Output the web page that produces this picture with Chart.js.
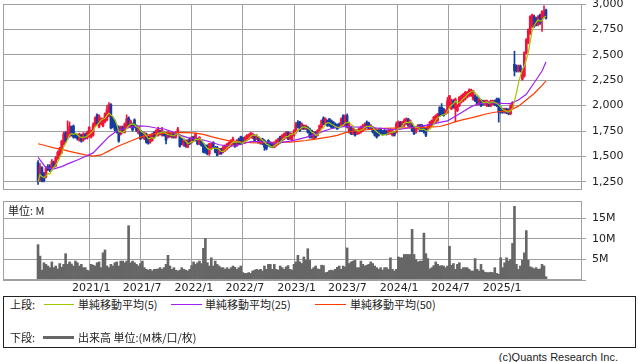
<!DOCTYPE html>
<html lang="ja">
<head>
<meta charset="utf-8">
<title>週足チャート</title>
<script src="https://cdn.jsdelivr.net/npm/chart.js@4.4.1/dist/chart.umd.min.js"></script>
<style>
  html, body { margin: 0; padding: 0; background: #fff; }
  body { position: relative; width: 638px; height: 362px; overflow: hidden;
         font-family: "Noto Sans CJK JP", "DejaVu Sans", sans-serif; color: #222; }
  canvas { position: absolute; left: 0; }
  #price { top: 0; }
  #volume { top: 195px; }
  .t { position: absolute; font-size: 11px; line-height: 14px; white-space: nowrap; }
  .ln { position: absolute; height: 1px; }
  #legend { position: absolute; left: 3px; top: 296px; width: 631px; height: 50px; border: 1px solid #222; }
</style>
</head>
<body>
<canvas id="price" width="638" height="192"></canvas>
<canvas id="volume" width="638" height="100"></canvas>
<div class="t" style="left:8px; top:203px;">単位: M</div>

<div id="legend"></div>
<div class="t" style="left:10px; top:297px;">上段:</div>
<div class="ln" style="left:44px; top:304px; width:30px; background:#a0c800;"></div>
<div class="t" style="left:78px; top:297px;">単純移動平均(5)</div>
<div class="ln" style="left:171px; top:304px; width:31px; background:#a020f0;"></div>
<div class="t" style="left:205px; top:297px;">単純移動平均(25)</div>
<div class="ln" style="left:315px; top:304px; width:31px; background:#ff3c00;"></div>
<div class="t" style="left:350px; top:297px;">単純移動平均(50)</div>
<div class="t" style="left:10px; top:330px;">下段:</div>
<div class="ln" style="left:43px; top:336px; width:31px; height:3px; background:#666;"></div>
<div class="t" style="left:78px; top:330px;">出来高 単位:(M株/口/枚)</div>
<div class="t" style="right:20px; top:350px; font-family:'Liberation Sans', sans-serif;">(c)Quants Research Inc.</div>

<script>
// 週足 (2020/7/3 の週から)
const firstWeek = '2020/7/3';
const tickLabels = ['2021/1', '2021/7', '2022/1', '2022/7', '2023/1', '2023/7', '2024/1', '2024/7', '2025/1'];
const priceTicks = [1250, 1500, 1750, 2000, 2250, 2500, 2750, 3000];
const volumeTicks = [0, 5, 10, 15];

const opens = [
  1440,1270,1390,1330,1300,1400,1405,1375,1440,1410,1480,1510,1540,1620,1735,1680,1700,1790,1800,1720,
  1710,1660,1710,1660,1720,1680,1700,1690,1710,1800,1910,1790,1820,1800,1840,1860,1900,2010,1880,1850,
  1800,1790,1720,1790,1740,1790,1880,1790,1820,1860,1800,1729,1755,1738,1673,1722,1689,1640,1657,1738,
  1706,1706,1755,1706,1738,1729,1689,1729,1689,1722,1689,1722,1706,1673,1608,1657,1591,1673,1640,1695,
  1657,1673,1624,1657,1624,1608,1608,1526,1575,1640,1591,1591,1526,1575,1542,1559,1575,1591,1608,1624,
  1640,1608,1673,1695,1683,1640,1663,1673,1689,1683,1706,1673,1689,1630,1673,1657,1640,1657,1640,1630,
  1591,1608,1624,1695,1657,1673,1689,1738,1673,1657,1706,1738,1837,1837,1771,1804,1771,1787,1771,1755,
  1673,1738,1706,1738,1787,1879,1820,1853,1869,1853,1837,1820,1814,1820,1804,1902,1804,1902,1740,1789,
  1724,1756,1724,1730,1740,1756,1773,1838,1830,1773,1789,1773,1756,1756,1773,1750,1756,1750,1724,1730,
  1708,1740,1740,1773,1838,1795,1805,1821,1870,1789,1821,1789,1740,1773,1805,1805,1789,1773,1773,1789,
  1805,1821,1838,1854,1984,1984,1968,1919,1935,1984,1968,2049,1968,1951,2000,2032,2049,2065,2081,2097,
  2097,2065,2097,2081,2016,2049,2049,2016,2000,2032,2000,2016,2049,2065,2065,1984,1968,1935,1968,1961,
  1919,1984,2406,2390,2341,2390,2260,2292,2520,2617,2714,2780,2877,2860,2795,2893,2860,2877,2941
];
const highs = [
  1460,1430,1400,1345,1400,1420,1420,1470,1455,1500,1555,1590,1660,1740,1745,1850,1840,1800,1810,1730,
  1720,1730,1720,1735,1730,1750,1790,1760,1830,1890,1920,1910,1880,1880,1930,2000,2030,2020,1890,1860,
  1810,1800,1800,1800,1830,1910,1890,1860,1830,1870,1810,1800,1760,1745,1740,1730,1700,1715,1730,1745,
  1765,1790,1760,1787,1745,1735,1745,1735,1735,1730,1745,1787,1715,1680,1665,1665,1665,1680,1695,1700,
  1730,1680,1695,1665,1630,1615,1615,1630,1630,1645,1600,1600,1580,1580,1600,1615,1630,1645,1665,1690,
  1645,1665,1680,1700,1690,1695,1715,1722,1740,1730,1715,1715,1695,1680,1680,1665,1645,1665,1645,1640,
  1645,1665,1680,1700,1715,1730,1745,1745,1735,1730,1765,1837,1853,1845,1830,1810,1810,1795,1780,1760,
  1745,1745,1765,1810,1860,1890,1880,1860,1875,1860,1845,1830,1820,1830,1880,1910,1910,1920,1830,1795,
  1780,1765,1765,1780,1800,1815,1830,1850,1838,1815,1795,1780,1765,1765,1780,1756,1765,1756,1765,1770,
  1756,1745,1840,1850,1845,1845,1870,1880,1875,1860,1830,1795,1795,1815,1815,1815,1795,1780,1815,1845,
  1860,1895,1910,1925,1990,2020,1975,1960,2081,2100,2065,2060,2075,2010,2090,2105,2120,2140,2140,2165,
  2162,2150,2110,2090,2075,2060,2055,2055,2055,2040,2055,2055,2055,2075,2075,1990,1975,1975,1975,1970,
  2010,2040,2536,2400,2400,2400,2365,2530,2660,2755,2885,2900,2890,2870,2885,2900,2935,2981,2950
];
const lows = [
  1225,1255,1250,1250,1290,1360,1350,1365,1390,1400,1470,1500,1530,1610,1640,1670,1690,1700,1680,1680,
  1660,1650,1640,1650,1670,1670,1690,1680,1700,1790,1810,1780,1810,1790,1830,1850,1890,1770,1780,1750,
  1730,1640,1710,1730,1730,1780,1790,1780,1750,1780,1745,1720,1665,1680,1665,1630,1620,1630,1650,1680,
  1700,1700,1715,1700,1700,1624,1680,1690,1680,1680,1680,1715,1591,1615,1600,1590,1585,1615,1630,1650,
  1650,1615,1615,1600,1535,1530,1515,1510,1565,1585,1535,1505,1520,1520,1535,1550,1565,1585,1600,1615,
  1590,1600,1615,1615,1630,1630,1655,1665,1680,1675,1650,1665,1630,1620,1615,1560,1565,1600,1590,1585,
  1585,1600,1615,1630,1650,1665,1680,1665,1665,1650,1700,1730,1780,1745,1765,1765,1765,1730,1680,1680,
  1665,1680,1700,1730,1780,1810,1810,1795,1795,1780,1780,1780,1765,1780,1795,1810,1795,1780,1730,1715,
  1715,1700,1715,1720,1730,1745,1765,1780,1765,1765,1730,1700,1680,1700,1715,1710,1715,1710,1715,1720,
  1700,1700,1730,1765,1780,1789,1795,1815,1795,1780,1745,1715,1730,1765,1745,1745,1730,1695,1765,1780,
  1795,1815,1830,1845,1895,1910,1895,1910,1925,1975,1960,1975,1838,1940,1990,2025,2040,2055,2075,2090,
  2090,2055,2040,2005,2005,1990,2005,2005,1990,1990,1990,2010,2000,1990,1838,1925,1925,1925,1920,1910,
  1910,1975,2292,2330,2330,2330,2250,2280,2510,2610,2700,2770,2770,2785,2785,2800,2730,2865,2850
];
const closes = [
  1250,1395,1260,1262,1380,1370,1365,1450,1400,1490,1540,1575,1650,1720,1650,1740,1800,1710,1690,1690,
  1675,1720,1650,1720,1680,1740,1790,1750,1810,1880,1820,1900,1870,1870,1920,1960,2010,1780,1790,1760,
  1740,1650,1790,1740,1820,1870,1800,1850,1760,1787,1755,1787,1673,1689,1729,1640,1630,1706,1722,1689,
  1755,1771,1722,1755,1706,1660,1738,1697,1729,1689,1738,1771,1600,1624,1657,1600,1657,1624,1689,1657,
  1722,1624,1689,1608,1542,1542,1526,1624,1624,1591,1542,1510,1575,1526,1591,1608,1624,1640,1657,1673,
  1598,1657,1624,1624,1640,1689,1706,1716,1729,1722,1657,1706,1640,1673,1624,1591,1575,1608,1598,1591,
  1640,1657,1673,1640,1706,1722,1738,1673,1729,1722,1755,1820,1787,1755,1820,1771,1804,1738,1689,1689,
  1738,1689,1755,1804,1853,1820,1869,1804,1804,1787,1787,1787,1771,1787,1869,1820,1902,1789,1821,1724,
  1773,1708,1756,1773,1789,1805,1821,1789,1773,1805,1740,1708,1691,1708,1724,1718,1724,1718,1756,1762,
  1750,1708,1821,1838,1789,1838,1854,1870,1805,1854,1756,1724,1789,1805,1756,1756,1740,1708,1805,1838,
  1854,1886,1902,1919,1902,1919,1902,1951,2049,2098,2016,1984,2065,2000,2081,2097,2114,2130,2130,2156,
  2156,2146,2049,2016,2065,2000,2016,2049,2049,2000,2049,2049,2006,2000,1935,1935,1935,1968,1929,1919,
  2000,2032,2341,2341,2390,2341,2357,2520,2649,2747,2877,2893,2780,2795,2877,2812,2925,2925,2860
];
// 出来高 (M)
const volumes = [
  8.6,5.8,2.4,4.2,3.8,3.4,3.0,4.4,3.0,3.4,2.7,4.0,3.1,3.8,6.4,3.8,4.4,3.9,3.4,4.6,
  4.2,3.4,3.8,3.0,3.0,2.4,2.2,3.8,3.6,3.4,4.2,4.4,3.0,6.6,7.3,3.4,3.0,3.8,3.4,4.2,
  4.4,3.4,4.6,4.6,4.2,4.6,13.2,4.2,4.6,4.2,3.8,3.4,4.0,4.6,3.0,2.6,2.4,2.6,2.2,2.6,
  2.6,2.7,3.0,2.6,3.0,3.8,6.0,3.4,2.6,3.0,2.4,2.2,2.4,3.0,2.6,2.4,2.2,2.6,3.5,4.4,
  3.8,4.2,4.6,4.0,7.7,10.1,4.2,3.4,5.4,3.4,4.6,3.8,3.4,3.0,3.0,2.6,3.0,2.6,3.0,3.4,
  3.1,2.6,3.0,3.4,1.8,1.6,1.6,1.8,1.6,2.2,2.4,2.6,2.4,2.6,2.2,3.4,2.6,3.8,3.8,2.6,
  3.8,2.6,2.4,3.4,3.0,2.6,3.2,3.5,
  2.6,2.4,3.8,4.4,6.0,4.4,4.0,5.6,4.8,7.6,4.8,2.6,3.0,3.4,2.7,2.6,3.6,3.5,1.8,1.9,
  2.3,2.4,2.3,2.6,3.1,3.4,2.6,3.4,3.1,7.8,4.0,4.4,4.6,4.8,3.0,3.0,4.6,3.8,3.4,3.6,
  3.8,4.4,4.0,3.4,3.0,2.6,3.0,2.4,3.0,3.0,2.6,5.4,2.6,2.2,2.6,5.6,5.4,5.4,6.2,6.2,
  6.2,6.2,12.3,6.2,5.0,4.4,4.6,4.6,11.4,6.4,5.2,2.7,3.0,3.5,4.4,3.8,3.4,3.5,3.4,3.0,
  3.4,8.2,3.6,4.0,2.6,3.8,4.2,2.6,3.0,3.0,3.0,2.6,2.2,2.2,5.2,2.6,2.2,3.8,2.4,1.9,
  1.8,1.8,1.9,1.8,3.0,1.6,1.4,5.4,3.0,4.2,5.4,4.6,5.0,8.9,17.9,3.8,2.6,3.4,4.8,6.6,
  12.0,4.8,3.2,3.0,2.7,3.0,2.6,2.7,3.8,3.4,0.8
];
// 25週・50週移動平均 (4週ごとに読み取り)
const maWeeks = [0,4,8,12,16,20,24,28,32,36,40,44,48,52,56,60,64,68,72,76,80,84,88,92,96,100,
  104,108,112,116,120,124,128,132,136,140,144,148,152,156,160,164,168,172,176,180,184,188,192,196,
  200,204,208,212,216,220,224,228,232,236,240,244,248,252,256,258];
const ma25 = [1490,1390,1378,1400,1434,1465,1500,1535,1615,1695,1750,1775,1790,1800,1795,1780,1770,1745,1710,1685,
  1672,1662,1640,1615,1605,1605,1625,1645,1645,1640,1632,1638,1650,1668,1688,1712,1742,1768,1787,1795,
  1790,1789,1788,1780,1773,1765,1768,1780,1790,1803,1817,1835,1850,1895,1942,1990,2020,2026,2026,2022,
  2020,2055,2112,2225,2340,2430];
const ma50 = [1625,1605,1585,1570,1550,1532,1515,1503,1515,1555,1595,1628,1660,1690,1712,1724,1730,1733,1736,1735,
  1730,1718,1695,1675,1658,1647,1642,1637,1634,1636,1638,1640,1640,1648,1657,1668,1680,1693,1708,1735,
  1748,1756,1765,1772,1776,1779,1780,1782,1784,1787,1791,1795,1815,1843,1862,1880,1900,1920,1935,1945,
  1955,1995,2055,2120,2200,2244];

const UP = '#f0143c', DOWN = '#143ca0';
const GRID = '#a0a0a0';
const X_MIN = -17.8, X_MAX = 276.3;

function weekOf(label) {
  const [y, m, d] = label.split('/').map(Number);
  const [y0, m0, d0] = firstWeek.split('/').map(Number);
  return (Date.UTC(y, m - 1, d || 1) - Date.UTC(y0, m0 - 1, d0)) / (7 * 86400000);
}
const tickWeeks = tickLabels.map(weekOf);

const candleColor = closes.map((c, i) => c >= opens[i] ? UP : DOWN);
const wicks = closes.map((c, i) => ({ x: i, y: [lows[i], highs[i]] }));
const bodies = closes.map((c, i) => ({ x: i, y: [Math.min(opens[i], c), Math.max(opens[i], c)] }));
// 5週線は終値から
const ma5 = closes.map((c, i) => {
  const s = closes.slice(Math.max(0, i - 4), i + 1);
  return { x: i, y: s.reduce((a, b) => a + b, 0) / s.length };
});

const framePlugin = {
  id: 'frame',
  afterDraw(chart) {
    const { ctx, chartArea: a } = chart;
    ctx.save();
    ctx.strokeStyle = GRID;
    ctx.lineWidth = 1;
    ctx.strokeRect(a.left + 0.5, a.top + 0.5, a.right - a.left - 1, a.bottom - a.top - 1);
    ctx.restore();
  }
};

const tickFont = { family: 'DejaVu Sans', size: 11 };

function xScale(showLabels) {
  return {
    type: 'linear', min: X_MIN, max: X_MAX, offset: false,
    afterBuildTicks: s => { s.ticks = tickWeeks.map(v => ({ value: v })); },
    ticks: {
      display: showLabels, autoSkip: false, maxRotation: 0, padding: 2, labelOffset: 2,
      color: '#222', font: tickFont,
      callback: (v, i) => tickLabels[i]
    },
    grid: { color: GRID, drawTicks: false, offset: false },
    border: { display: false },
    afterFit: s => { s.height = showLabels ? 15 : 0; s.paddingLeft = 0; s.paddingRight = 0; }
  };
}

// 右側の目盛り: 幅固定、上下の余白なし
function yFit(s) { s.width = 56; s.paddingTop = 0; s.paddingBottom = 0; }

const common = {
  responsive: false, animation: false, devicePixelRatio: 1, events: [],
  plugins: { legend: { display: false }, tooltip: { enabled: false } }
};

new Chart(document.getElementById('price'), {
  type: 'bar',
  data: {
    datasets: [
      { type: 'line', data: ma5, borderColor: '#a0c800', borderWidth: 1.2, pointRadius: 0, order: 0 },
      { type: 'line', data: maWeeks.map((w, i) => ({ x: w, y: ma25[i] })), borderColor: '#a020f0', borderWidth: 1.2, pointRadius: 0, order: 0 },
      { type: 'line', data: maWeeks.map((w, i) => ({ x: w, y: ma50[i] })), borderColor: '#ff3c00', borderWidth: 1.2, pointRadius: 0, order: 0 },
      { data: wicks, backgroundColor: candleColor, barThickness: 1, grouped: false, order: 2 },
      { data: bodies, backgroundColor: candleColor, barThickness: 2, grouped: false, order: 1 }
    ]
  },
  options: {
    ...common,
    layout: { padding: { left: 3, top: 4, right: 0, bottom: 2 } },
    scales: {
      x: xScale(false),
      y: {
        position: 'right', min: 1170, max: 3000,
        afterBuildTicks: s => { s.ticks = priceTicks.map(v => ({ value: v })); },
        ticks: { color: '#222', font: tickFont, padding: 6, callback: v => v.toLocaleString('en-US') },
        grid: { color: GRID, tickLength: 4 },
        border: { display: false },
        afterFit: yFit
      }
    }
  },
  plugins: [framePlugin]
});

new Chart(document.getElementById('volume'), {
  type: 'bar',
  data: {
    datasets: [
      { data: volumes.map((v, i) => ({ x: i, y: v })), backgroundColor: '#666',
        barPercentage: 1, categoryPercentage: 1 }
    ]
  },
  options: {
    ...common,
    layout: { padding: { left: 3, top: 6, right: 0, bottom: 0 } },
    scales: {
      x: xScale(true),
      y: {
        position: 'right', min: 0, max: 19.2,
        afterBuildTicks: s => { s.ticks = volumeTicks.map(v => ({ value: v })); },
        ticks: { color: '#222', font: tickFont, padding: 6, callback: v => v ? v + 'M' : '' },
        grid: { color: GRID, tickLength: 4 },
        border: { display: false },
        afterFit: yFit
      }
    }
  },
  plugins: [framePlugin]
});
</script>
</body>
</html>
